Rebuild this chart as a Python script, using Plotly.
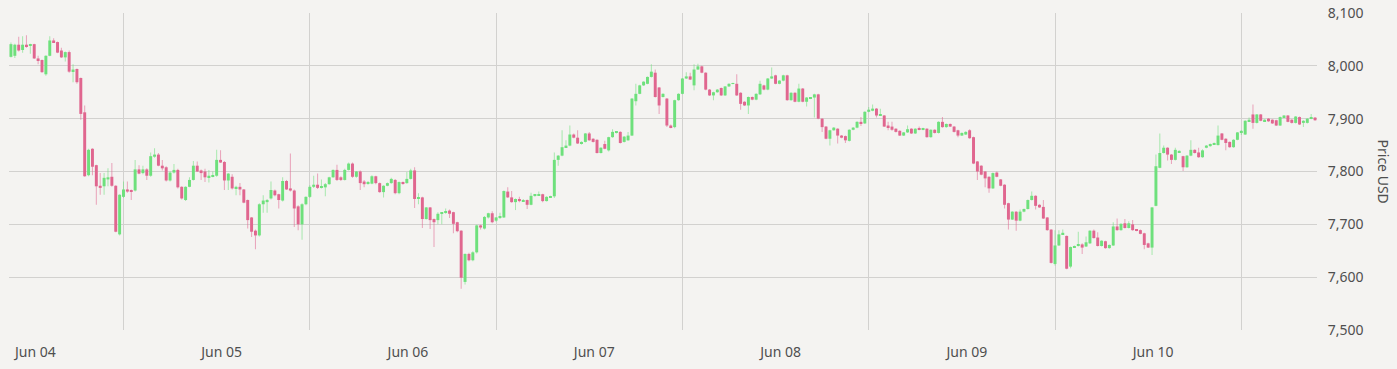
import plotly.graph_objects as go
import pandas as pd

# 30-minute OHLC candles, BTC price in USD
opens = [
    8017, 8019, 8040, 8030, 8040, 8039, 8041, 8014, 8011, 7984,
    8019, 8048, 8045, 8029, 8016, 8026, 7990, 7994, 7977, 7912,
    7793, 7843, 7812, 7773, 7772, 7785, 7790, 7773, 7681, 7752,
    7766, 7764, 7764, 7804, 7797, 7804, 7792, 7828, 7832, 7811,
    7808, 7783, 7798, 7803, 7771, 7746, 7771, 7784, 7811, 7802,
    7800, 7789, 7791, 7792, 7822, 7818, 7783, 7790, 7768, 7771,
    7766, 7746, 7713, 7688, 7679, 7738, 7742, 7749, 7764, 7757,
    7745, 7782, 7768, 7764, 7734, 7700, 7738, 7752, 7771, 7775,
    7770, 7770, 7776, 7789, 7803, 7789, 7784, 7803, 7815, 7790,
    7800, 7781, 7777, 7777, 7791, 7778, 7761, 7773, 7778, 7784,
    7759, 7780, 7778, 7786, 7802, 7749, 7751, 7710, 7732, 7710,
    7708, 7720, 7722, 7726, 7723, 7704, 7688, 7591, 7644, 7632,
    7647, 7698, 7692, 7713, 7721, 7707, 7712, 7713, 7762, 7751,
    7742, 7748, 7744, 7746, 7737, 7754, 7755, 7757, 7744, 7751,
    7753, 7822, 7830, 7846, 7849, 7870, 7864, 7853, 7856, 7872,
    7862, 7860, 7835, 7852, 7840, 7865, 7873, 7875, 7856, 7859,
    7868, 7933, 7947, 7963, 7966, 7979, 7987, 7959, 7941, 7938,
    7887, 7884, 7935, 7947, 7976, 7980, 7963, 7993, 7999, 7987,
    7955, 7944, 7950, 7958, 7944, 7961, 7966, 7966, 7949, 7932,
    7925, 7941, 7936, 7946, 7963, 7955, 7976, 7982, 7966, 7972,
    7982, 7935, 7949, 7932, 7957, 7932, 7938, 7940, 7946, 7900,
    7885, 7862, 7878, 7881, 7868, 7867, 7858, 7879, 7883, 7894,
    7891, 7913, 7915, 7919, 7906, 7906, 7887, 7885, 7881, 7877,
    7868, 7874, 7881, 7872, 7882, 7879, 7881, 7865, 7879, 7873,
    7894, 7884, 7890, 7885, 7878, 7868, 7870, 7878, 7865, 7819,
    7811, 7800, 7790, 7768, 7798, 7785, 7775, 7740, 7709, 7724,
    7707, 7724, 7729, 7746, 7754, 7737, 7733, 7713, 7690, 7625,
    7660, 7681, 7678, 7620, 7657, 7659, 7662, 7658, 7664, 7688,
    7675, 7659, 7668, 7655, 7660, 7696, 7689, 7702, 7693, 7700,
    7690, 7689, 7683, 7664, 7656, 7735, 7807, 7835, 7845, 7832,
    7822, 7836, 7829, 7808, 7830, 7841, 7836, 7827, 7845, 7848,
    7851, 7850, 7872, 7862, 7856, 7846, 7860, 7874, 7870, 7895,
    7908, 7892, 7908, 7895, 7900, 7898, 7897, 7887, 7903, 7906,
    7898, 7892, 7903, 7892, 7892, 7900, 7902,
]
highs = [
    8044, 8042, 8055, 8056, 8058, 8042, 8042, 8019, 8012, 8020,
    8056, 8052, 8046, 8034, 8027, 8029, 8003, 7995, 7978, 7925,
    7843, 7844, 7813, 7797, 7797, 7806, 7816, 7774, 7757, 7781,
    7781, 7766, 7822, 7812, 7811, 7806, 7836, 7844, 7835, 7822,
    7810, 7800, 7814, 7805, 7772, 7772, 7789, 7820, 7819, 7804,
    7805, 7803, 7800, 7841, 7840, 7820, 7797, 7795, 7773, 7778,
    7767, 7747, 7714, 7690, 7740, 7755, 7748, 7781, 7766, 7758,
    7789, 7784, 7834, 7766, 7736, 7740, 7753, 7774, 7792, 7796,
    7785, 7778, 7790, 7804, 7813, 7791, 7805, 7817, 7817, 7801,
    7802, 7784, 7782, 7793, 7792, 7779, 7774, 7779, 7788, 7786,
    7781, 7781, 7799, 7805, 7808, 7759, 7752, 7733, 7733, 7711,
    7723, 7723, 7730, 7728, 7724, 7705, 7689, 7645, 7646, 7649,
    7699, 7699, 7716, 7722, 7725, 7714, 7722, 7764, 7770, 7763,
    7749, 7752, 7748, 7747, 7760, 7757, 7762, 7758, 7753, 7754,
    7836, 7831, 7878, 7859, 7887, 7872, 7878, 7857, 7873, 7875,
    7863, 7861, 7846, 7858, 7866, 7880, 7876, 7876, 7867, 7875,
    7939, 7966, 7964, 7971, 7980, 8003, 7993, 7960, 7948, 7939,
    7889, 7936, 7948, 7977, 7988, 7987, 8003, 8004, 8000, 7988,
    7956, 7951, 7956, 7959, 7962, 7967, 7968, 7984, 7950, 7933,
    7942, 7942, 7948, 7972, 7964, 7977, 7997, 7983, 7973, 7983,
    7983, 7950, 7950, 7966, 7958, 7941, 7941, 7947, 7947, 7901,
    7886, 7879, 7884, 7882, 7869, 7868, 7880, 7884, 7895, 7903,
    7914, 7922, 7927, 7920, 7919, 7907, 7894, 7894, 7882, 7878,
    7875, 7887, 7882, 7882, 7885, 7883, 7882, 7880, 7880, 7895,
    7903, 7891, 7891, 7886, 7879, 7874, 7876, 7880, 7866, 7820,
    7812, 7801, 7791, 7798, 7800, 7786, 7776, 7741, 7725, 7725,
    7728, 7730, 7747, 7762, 7755, 7738, 7746, 7714, 7691, 7689,
    7689, 7690, 7679, 7658, 7660, 7686, 7664, 7677, 7689, 7690,
    7685, 7670, 7669, 7662, 7704, 7711, 7702, 7710, 7706, 7708,
    7691, 7690, 7684, 7665, 7733, 7832, 7872, 7849, 7846, 7833,
    7845, 7840, 7830, 7831, 7859, 7842, 7845, 7842, 7850, 7853,
    7855, 7887, 7873, 7863, 7857, 7861, 7875, 7878, 7897, 7902,
    7927, 7909, 7909, 7899, 7901, 7899, 7898, 7904, 7907, 7907,
    7899, 7905, 7904, 7897, 7901, 7909, 7903,
]
lows = [
    8016, 8015, 8027, 8025, 8034, 8023, 8013, 8003, 7987, 7981,
    8018, 8043, 8024, 8015, 8008, 7987, 7969, 7966, 7898, 7790,
    7791, 7793, 7737, 7756, 7756, 7772, 7771, 7685, 7679, 7750,
    7760, 7746, 7762, 7795, 7795, 7784, 7790, 7826, 7810, 7802,
    7781, 7781, 7796, 7768, 7747, 7744, 7770, 7783, 7799, 7784,
    7780, 7779, 7789, 7790, 7816, 7765, 7765, 7766, 7755, 7755,
    7740, 7692, 7676, 7653, 7677, 7722, 7722, 7747, 7753, 7730,
    7743, 7765, 7762, 7695, 7689, 7671, 7736, 7750, 7769, 7767,
    7768, 7753, 7775, 7788, 7782, 7782, 7783, 7802, 7788, 7788,
    7765, 7770, 7775, 7776, 7776, 7760, 7751, 7772, 7777, 7757,
    7757, 7775, 7777, 7785, 7731, 7738, 7693, 7709, 7691, 7657,
    7700, 7700, 7720, 7712, 7683, 7685, 7578, 7586, 7630, 7630,
    7645, 7690, 7690, 7711, 7702, 7705, 7710, 7712, 7750, 7741,
    7727, 7742, 7743, 7729, 7736, 7752, 7754, 7742, 7743, 7750,
    7750, 7811, 7829, 7845, 7848, 7863, 7852, 7851, 7855, 7858,
    7855, 7834, 7834, 7842, 7838, 7864, 7872, 7853, 7855, 7858,
    7867, 7925, 7946, 7962, 7965, 7978, 7940, 7909, 7940, 7884,
    7882, 7882, 7934, 7946, 7975, 7973, 7954, 7992, 7986, 7954,
    7943, 7935, 7949, 7943, 7943, 7960, 7965, 7943, 7917, 7924,
    7909, 7935, 7935, 7945, 7954, 7954, 7975, 7965, 7965, 7971,
    7934, 7934, 7931, 7931, 7931, 7923, 7937, 7902, 7899, 7875,
    7861, 7849, 7877, 7853, 7863, 7854, 7857, 7878, 7882, 7886,
    7890, 7912, 7914, 7902, 7905, 7884, 7878, 7877, 7874, 7867,
    7867, 7873, 7871, 7871, 7878, 7878, 7864, 7864, 7872, 7872,
    7883, 7883, 7884, 7874, 7865, 7867, 7869, 7862, 7814, 7784,
    7793, 7770, 7760, 7767, 7789, 7772, 7730, 7690, 7708, 7688,
    7706, 7723, 7728, 7745, 7728, 7731, 7710, 7688, 7626, 7622,
    7659, 7680, 7615, 7617, 7655, 7658, 7644, 7657, 7663, 7673,
    7658, 7658, 7654, 7654, 7659, 7688, 7688, 7692, 7692, 7688,
    7687, 7681, 7653, 7655, 7642, 7734, 7806, 7834, 7821, 7814,
    7821, 7835, 7801, 7807, 7829, 7834, 7826, 7826, 7844, 7847,
    7850, 7849, 7859, 7840, 7845, 7845, 7859, 7869, 7869, 7894,
    7881, 7891, 7895, 7894, 7894, 7890, 7886, 7886, 7902, 7893,
    7891, 7891, 7888, 7884, 7891, 7899, 7896,
]
closes = [
    8041, 8040, 8029, 8040, 8037, 8041, 8014, 8011, 7988, 8019,
    8048, 8045, 8025, 8016, 8026, 7989, 7993, 7969, 7909, 7791,
    7841, 7809, 7772, 7769, 7788, 7789, 7773, 7686, 7756, 7766,
    7762, 7762, 7804, 7796, 7804, 7792, 7829, 7832, 7811, 7806,
    7783, 7798, 7803, 7770, 7749, 7771, 7784, 7811, 7800, 7797,
    7789, 7792, 7792, 7822, 7817, 7783, 7796, 7768, 7771, 7766,
    7741, 7708, 7686, 7679, 7738, 7745, 7746, 7765, 7755, 7746,
    7782, 7766, 7764, 7730, 7700, 7738, 7752, 7771, 7775, 7769,
    7772, 7776, 7789, 7803, 7784, 7784, 7803, 7815, 7790, 7800,
    7778, 7776, 7780, 7791, 7778, 7761, 7773, 7778, 7786, 7759,
    7780, 7777, 7786, 7802, 7748, 7751, 7710, 7732, 7708, 7704,
    7720, 7722, 7725, 7720, 7701, 7687, 7599, 7644, 7632, 7647,
    7698, 7694, 7714, 7721, 7704, 7713, 7715, 7763, 7751, 7742,
    7748, 7744, 7746, 7737, 7754, 7756, 7757, 7744, 7752, 7753,
    7822, 7830, 7846, 7849, 7870, 7864, 7853, 7856, 7872, 7859,
    7856, 7835, 7845, 7843, 7865, 7875, 7875, 7854, 7866, 7868,
    7938, 7947, 7963, 7970, 7979, 7989, 7941, 7925, 7947, 7887,
    7884, 7935, 7947, 7976, 7980, 7974, 7993, 7999, 7987, 7955,
    7944, 7950, 7955, 7944, 7961, 7966, 7967, 7944, 7928, 7925,
    7941, 7936, 7947, 7966, 7955, 7976, 7980, 7966, 7972, 7982,
    7935, 7949, 7932, 7957, 7932, 7940, 7940, 7946, 7900, 7884,
    7862, 7878, 7883, 7868, 7864, 7859, 7879, 7883, 7894, 7891,
    7913, 7917, 7919, 7906, 7908, 7885, 7884, 7879, 7875, 7868,
    7874, 7880, 7872, 7881, 7879, 7882, 7865, 7879, 7873, 7894,
    7884, 7890, 7885, 7875, 7868, 7873, 7875, 7863, 7815, 7800,
    7794, 7787, 7768, 7797, 7790, 7773, 7737, 7709, 7724, 7707,
    7724, 7729, 7746, 7754, 7735, 7732, 7711, 7689, 7627, 7660,
    7681, 7684, 7616, 7657, 7659, 7662, 7656, 7666, 7688, 7674,
    7659, 7669, 7655, 7661, 7696, 7689, 7701, 7693, 7702, 7689,
    7688, 7682, 7661, 7656, 7732, 7810, 7835, 7845, 7832, 7822,
    7841, 7839, 7808, 7830, 7841, 7835, 7827, 7840, 7849, 7852,
    7854, 7868, 7860, 7854, 7846, 7860, 7874, 7877, 7896, 7898,
    7892, 7908, 7896, 7898, 7895, 7891, 7887, 7903, 7906, 7894,
    7892, 7904, 7889, 7896, 7900, 7902, 7897,
]

start_time = "2019-06-03 21:30"
day_ticks = ["2019-06-04", "2019-06-05", "2019-06-06", "2019-06-07",
             "2019-06-08", "2019-06-09", "2019-06-10"]
day_labels = ["Jun 04", "Jun 05", "Jun 06", "Jun 07", "Jun 08", "Jun 09", "Jun 10"]
noon_grid = [d + " 12:00" for d in day_ticks]
price_ticks = [7500, 7600, 7700, 7800, 7900, 8000, 8100]

n = len(closes)
assert len(opens) == len(highs) == len(lows) == n
times = pd.date_range(start_time, periods=n, freq="30min")
slot_ms = 30 * 60 * 1000

BG = "#f4f3f1"
UP = "#6ee07c"
DOWN = "#e0668f"
UP_WICK = "rgba(110,224,124,0.55)"
DOWN_WICK = "rgba(224,102,143,0.55)"

rising = [c >= o for o, c in zip(opens, closes)]
body_base = [min(o, c) for o, c in zip(opens, closes)]
body_len = [max(abs(c - o), 1.5) for o, c in zip(opens, closes)]
wick_len = [h - l for h, l in zip(highs, lows)]

fig = go.Figure()
fig.add_trace(go.Bar(
    x=times, y=wick_len, base=lows, width=slot_ms * 0.27,
    marker=dict(color=[UP_WICK if r else DOWN_WICK for r in rising], line=dict(width=0)),
    hoverinfo="skip",
))
fig.add_trace(go.Bar(
    x=times, y=body_len, base=body_base, width=slot_ms * 0.76,
    marker=dict(color=[UP if r else DOWN for r in rising], line=dict(width=0)),
    customdata=list(zip(opens, highs, lows, closes)),
    hovertemplate="O %{customdata[0]}<br>H %{customdata[1]}<br>L %{customdata[2]}<br>C %{customdata[3]}<extra></extra>",
))

font = dict(family="Noto Sans, sans-serif", size=14, color="#4f4f4f")
grid = "#d2d1cf"

fig.update_layout(
    width=1397, height=369,
    margin=dict(l=9, r=80, t=13, b=39, autoexpand=False),
    paper_bgcolor=BG, plot_bgcolor=BG,
    barmode="overlay", showlegend=False, font=font,
    xaxis=dict(
        type="date", automargin=False,
        range=[times[0] - pd.Timedelta(minutes=15), times[-1] + pd.Timedelta(minutes=15)],
        tickmode="array", tickvals=day_ticks, ticktext=day_labels,
        ticks="", showgrid=False, zeroline=False, showline=False,
        ticklabelshift=5, ticklabelstandoff=12, tickfont=font,
        minor=dict(tickmode="array", tickvals=noon_grid, showgrid=True,
                   gridcolor=grid, gridwidth=1, ticks=""),
    ),
    yaxis=dict(
        side="right", automargin=False, range=[7500, 8100], tickmode="array",
        tickvals=price_ticks, tickformat=",", ticks="outside", ticklen=7,
        tickcolor="rgba(0,0,0,0)", showgrid=True,
        gridcolor=grid, gridwidth=1, zeroline=False, showline=False,
        ticklabeloverflow="allow", tickfont=font,
    ),
    annotations=[dict(
        text="Price USD", xref="paper", yref="paper", x=1.0512, y=0.5,
        xanchor="center", yanchor="middle", textangle=90, showarrow=False, font=font,
    )],
)

fig.write_html(
    "out.html",
    config={"displayModeBar": False},
    post_script="document.body.style.margin='0';document.body.style.background='%s';" % BG,
)
